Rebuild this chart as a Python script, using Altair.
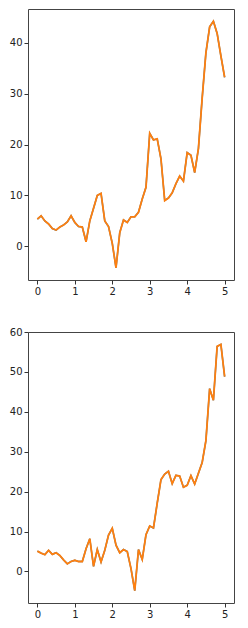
import altair as alt
import pandas as pd

x_vals = [round(i * 0.1, 1) for i in range(51)]

top_vals = [5.35, 6.0, 5.0, 4.4, 3.5, 3.2, 3.8, 4.2, 4.8, 6.0,
            4.7, 3.9, 3.8, 0.9, 5.0, 7.5, 10.0, 10.4, 5.0, 3.9,
            0.6, -4.2, 2.7, 5.2, 4.7, 5.8, 5.8, 6.7, 9.3, 11.6,
            22.2, 20.9, 21.1, 17.2, 9.0, 9.5, 10.5, 12.3, 13.8, 12.8,
            18.4, 17.9, 14.5, 19.2, 29.1, 38.0, 43.1, 44.2, 41.8, 37.4,
            33.2]

bottom_vals = [5.1, 4.6, 4.2, 5.3, 4.3, 4.7, 4.0, 2.9, 1.9, 2.5,
               2.8, 2.5, 2.5, 5.7, 8.2, 1.3, 5.5, 2.4, 5.3, 9.1,
               10.8, 6.6, 4.7, 5.5, 5.0, 0.7, -4.8, 5.5, 3.0, 9.2,
               11.4, 10.9, 17.1, 23.0, 24.4, 25.1, 22.0, 24.1, 23.9, 21.1,
               21.6, 24.0, 21.9, 24.6, 27.3, 32.8, 45.8, 42.9, 56.4, 56.9,
               48.8]

x_ticks = [0, 1, 2, 3, 4, 5]
top_ticks = [0, 10, 20, 30, 40]
bottom_ticks = [0, 10, 20, 30, 40, 50, 60]

W, H = 206, 271


def panel(vals, ydomain, yticks):
    df = pd.DataFrame({"x": x_vals, "y": vals})
    xenc = alt.X("x:Q", scale=alt.Scale(domain=[-0.25, 5.25], nice=False, zero=False),
                 axis=alt.Axis(values=x_ticks, title=None, grid=False, domain=False,
                               tickColor="#333", tickSize=4, labelPadding=2,
                               labelFontSize=10, labelColor="#222", labelFont="DejaVu Sans",
                               format="d"))
    yenc = alt.Y("y:Q", scale=alt.Scale(domain=ydomain, nice=False, zero=False),
                 axis=alt.Axis(values=yticks, title=None, grid=False, domain=False,
                               tickColor="#333", tickSize=4, labelPadding=2,
                               labelFontSize=10, labelColor="#222", labelFont="DejaVu Sans",
                               format="d"))
    blue = alt.Chart(df).mark_line(color="#1f77b4", strokeWidth=1.5).encode(x=xenc, y=yenc)
    orange = alt.Chart(df).mark_line(color="#ff7f0e", strokeWidth=1.8).encode(x=xenc, y=yenc)
    return alt.layer(blue, orange).properties(width=W, height=H)


top = panel(top_vals, [-6.6, 46.6], top_ticks)
bottom = panel(bottom_vals, [-7.9, 60.0], bottom_ticks)

chart = alt.vconcat(top, bottom, spacing=52, bounds="flush").properties(
    padding={"left": 0, "top": 0, "right": 0, "bottom": 0},
    background="white",
).configure_view(stroke="#444444", strokeWidth=1)

chart.save("out.html", embed_options={"renderer": "svg", "actions": False})
